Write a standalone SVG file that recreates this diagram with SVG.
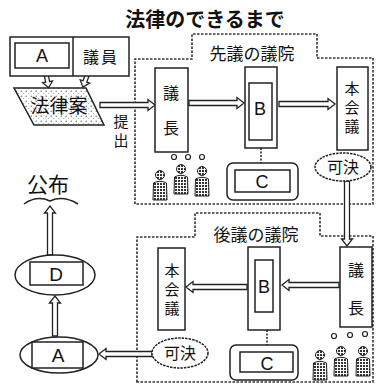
<svg xmlns="http://www.w3.org/2000/svg" width="376" height="385" viewBox="0 0 376 385">
<style>
.t{font-family:"Noto Sans CJK JP","Liberation Sans",sans-serif;fill:#111;text-anchor:middle}
.l{font-family:"Liberation Sans","Noto Sans CJK JP",sans-serif;fill:#111;text-anchor:middle}
.box{fill:#fff;stroke:#222;stroke-width:1.5}
.arr{fill:#fff;stroke:#222;stroke-width:1.3;stroke-linejoin:miter}
.ch{fill:none;stroke:#333;stroke-width:1.6;stroke-dasharray:2.5 1.5}
.ell{fill:#fff;stroke:#222;stroke-width:1.5;stroke-dasharray:2.5 1}
.con{stroke:#222;stroke-width:1.5;stroke-dasharray:2 1.5}
.body{fill:url(#dots);stroke:#222;stroke-width:1}
.head{fill:url(#dots);stroke:#222;stroke-width:1}
.bhead{fill:#fff;stroke:#222;stroke-width:1.2}
</style>
<defs>
<pattern id="stip" width="5" height="5" patternUnits="userSpaceOnUse">
<rect width="5" height="5" fill="#fff"/>
<circle cx="1.2" cy="1.2" r="0.7" fill="#666"/>
<circle cx="3.7" cy="3.6" r="0.5" fill="#888"/>
</pattern>
<pattern id="dots" width="3" height="3" patternUnits="userSpaceOnUse">
<rect width="3" height="3" fill="#fff"/>
<rect width="2" height="2" fill="#333"/>
</pattern>
<g id="person">
<path class="body" d="M-7,26 L-6.5,9 Q0,5.5 6.5,9 L7,26 Z"/>
<circle class="head" cx="0" cy="1" r="4.5"/>
</g>
</defs>

<text class="t" x="205" y="27" font-size="20" font-weight="bold">法律のできるまで</text>

<g id="chamber1">
<path class="ch" d="M135,204 L135,59 L192,59 L192,34 L317,34 L317,58 L373,58 L373,204 Z"/>
<text class="t" x="252" y="60" font-size="17">先議の議院</text>
</g>
<g id="chamber2">
<path class="ch" d="M137,382 L137,237 L195,237 L195,213 L320,213 L320,236 L373,236 L373,382 Z"/>
<text class="t" x="256" y="241" font-size="17">後議の議院</text>
</g>

<g id="connectors">
<polygon class="arr" points="44,73 44,82 41,82 46,88 51,82 48,82 48,73" transform="rotate(-10 46 73)"/>
<polygon class="arr" points="86,73 86,82 83,82 88,88 93,82 90,82 90,73" transform="rotate(20 88 73)"/>
<polygon class="arr" points="100,102.5 148,102.5 148,99.5 155,105 148,110.5 148,107.5 100,107.5"/>
<polygon class="arr" points="189,100.5 237,100.5 237,97.5 244,103 237,108.5 237,105.5 189,105.5"/>
<polygon class="arr" points="279,101.5 328,101.5 328,98.5 335,104 328,109.5 328,106.5 279,106.5"/>
<line class="con" x1="261" y1="148" x2="261" y2="163"/>
<polygon class="arr" points="344.5,181 344.5,239 341.5,239 347,246 352.5,239 349.5,239 349.5,181"/>
<polygon class="arr" points="339,282.5 289,282.5 289,279.5 282,285 289,290.5 289,287.5 339,287.5"/>
<polygon class="arr" points="247,284.5 193,284.5 193,281.5 186,287 193,292.5 193,289.5 247,289.5"/>
<line class="con" x1="267" y1="330" x2="267" y2="345"/>
<polygon class="arr" points="152,351.5 106,351.5 106,348.5 99,354 106,359.5 106,356.5 152,356.5"/>
<polygon class="arr" points="52.5,336 52.5,303 49.5,303 55,296 60.5,303 57.5,303 57.5,336"/>
<polygon class="arr" points="47.5,255 47.5,213 44.5,213 50,206 55.5,213 52.5,213 52.5,255"/>
</g>

<g id="proposer">
<rect class="box" x="10" y="37" width="119" height="39"/>
<line x1="73" y1="37" x2="73" y2="76" stroke="#222" stroke-width="1.5"/>
<rect class="box" x="15" y="43" width="54" height="25"/>
<text class="l" x="42" y="62" font-size="18">A</text>
<text class="t" x="101" y="63" font-size="16" letter-spacing="2">議員</text>
</g>

<g id="bill">
<polygon points="14,88 86,88 104,125 34,125" fill="url(#stip)" stroke="#222" stroke-width="1.5"/>
<text class="t" x="59" y="113" font-size="19">法律案</text>
</g>

<g id="submit">
<text class="t" font-size="15"><tspan x="121" y="127">提</tspan><tspan x="121" y="146">出</tspan></text>
</g>

<g id="speaker1">
<rect class="box" x="155" y="68" width="33" height="84"/>
<text class="t" font-size="16"><tspan x="171" y="99">議</tspan><tspan x="171" y="134">長</tspan></text>
</g>
<g id="members1">
<circle class="bhead" cx="174" cy="157" r="2.5"/>
<circle class="bhead" cx="188" cy="157" r="2.5"/>
<circle class="bhead" cx="202" cy="157" r="2.5"/>
<use href="#person" x="160" y="174"/>
<use href="#person" x="181" y="168"/>
<use href="#person" x="202" y="170"/>
</g>

<g id="b1">
<rect class="box" x="245" y="67" width="32" height="81"/>
<rect class="box" x="249" y="83" width="23" height="57"/>
<text class="l" x="260" y="115" font-size="18">B</text>
</g>
<g id="c1">
<rect class="box" x="227" y="163" width="71" height="37" rx="6"/>
<rect class="box" x="235" y="170" width="55" height="22"/>
<text class="l" x="262" y="188" font-size="18">C</text>
</g>

<g id="plenary1">
<rect class="box" x="337" y="67" width="31" height="83"/>
<text class="t" font-size="15"><tspan x="352" y="94">本</tspan><tspan x="352" y="113">会</tspan><tspan x="352" y="132">議</tspan></text>
</g>
<g id="pass1">
<ellipse class="ell" cx="343" cy="167" rx="28" ry="14"/>
<text class="t" x="343" y="173" font-size="16">可決</text>
</g>

<g id="speaker2">
<rect class="box" x="340" y="247" width="32" height="80"/>
<text class="t" font-size="16"><tspan x="356" y="276">議</tspan><tspan x="356" y="314">長</tspan></text>
</g>
<g id="members2">
<circle class="bhead" cx="334" cy="336" r="2.5"/>
<circle class="bhead" cx="350" cy="335" r="2.5"/>
<circle class="bhead" cx="365" cy="334" r="2.5"/>
<use href="#person" x="320" y="354"/>
<use href="#person" x="341" y="350"/>
<use href="#person" x="363" y="350"/>
</g>

<g id="b2">
<rect class="box" x="248" y="247" width="32" height="83"/>
<rect class="box" x="255" y="260" width="18" height="52"/>
<text class="l" x="264" y="293" font-size="18">B</text>
</g>
<g id="c2">
<rect class="box" x="230" y="345" width="68" height="35" rx="6"/>
<rect class="box" x="240" y="352" width="53" height="20"/>
<text class="l" x="267" y="370" font-size="18">C</text>
</g>

<g id="plenary2">
<rect class="box" x="158" y="248" width="27" height="82"/>
<text class="t" font-size="15"><tspan x="172" y="276">本</tspan><tspan x="172" y="295">会</tspan><tspan x="172" y="314">議</tspan></text>
</g>
<g id="pass2">
<ellipse class="ell" cx="180" cy="353" rx="28" ry="15"/>
<text class="t" x="180" y="359" font-size="16">可決</text>
</g>

<g id="a2">
<ellipse class="box" cx="59" cy="355" rx="39" ry="18"/>
<rect class="box" x="32" y="342" width="51" height="26"/>
<text class="l" x="58" y="362" font-size="19">A</text>
</g>
<g id="d">
<ellipse class="box" cx="55" cy="275" rx="40" ry="20"/>
<rect class="box" x="30" y="262" width="53" height="23"/>
<text class="l" x="56" y="281" font-size="19">D</text>
</g>

<g id="promulgation">
<text class="t" x="48" y="192" font-size="21">公布</text>
<path d="M24,204 Q37,195 50,201 Q63,195 78,204" fill="none" stroke="#222" stroke-width="1.5"/>
</g>
</svg>
